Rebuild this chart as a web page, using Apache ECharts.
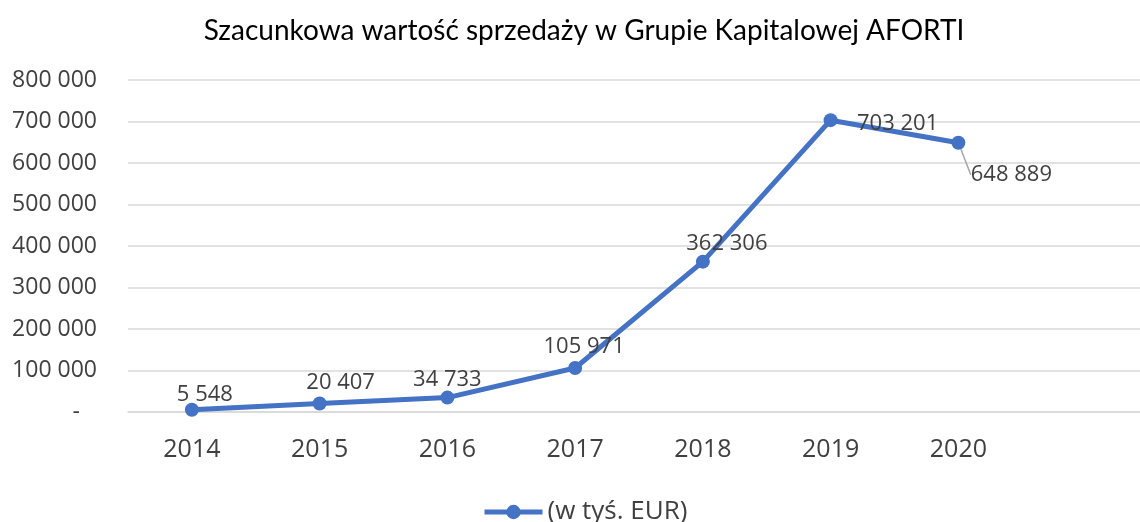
<!DOCTYPE html>
<html lang="pl">
<head>
<meta charset="UTF-8">
<title>AFORTI</title>
<script src="https://cdn.jsdelivr.net/npm/echarts@6/dist/echarts.min.js"></script>
<style>
  html, body { margin: 0; padding: 0; background: #fff; overflow: hidden; }
  #main { width: 1150px; height: 522px; }
</style>
</head>
<body>
<div id="main"></div>
<script>
var years = ['2014', '2015', '2016', '2017', '2018', '2019', '2020', ''];
var sales = [5548, 20407, 34733, 105971, 362306, 703201, 648889];
var yTicks = [0, 100000, 200000, 300000, 400000, 500000, 600000, 700000, 800000];

// label shifts (dx, dy) from the default "top" position
var labelShift = [[13, 6], [21, 0], [0, 3], [9, 0], [24, 3], [67, 25], [53, 53]];

function fmt(v) {
    return String(v).replace(/\B(?=(\d{3})+(?!\d))/g, ' ');
}

var myChart = echarts.init(document.getElementById('main'));

var option = {
    animation: false,
    title: {
        text: 'Szacunkowa wartość sprzedaży w Grupie Kapitalowej AFORTI',
        left: 579,
        textAlign: 'center',
        top: 12,
        textStyle: { fontFamily: 'Lato', fontSize: 28, fontWeight: 'normal', color: '#000' }
    },
    legend: {
        top: 494,
        left: 477,
        itemWidth: 58,
        itemHeight: 18,
        itemGap: 10,
        lineStyle: { width: 5 },
        textStyle: { fontFamily: 'Open Sans', fontSize: 26, color: '#404040' },
        data: ['(w tyś. EUR)']
    },
    grid: { left: 128, right: 0, top: 80, bottom: 110 },
    xAxis: {
        type: 'category',
        data: years,
        boundaryGap: true,
        axisLine: { show: true, lineStyle: { color: '#d9d9d9', width: 1.5 } },
        axisTick: { show: false },
        axisLabel: { margin: 25, fontFamily: 'Open Sans', fontSize: 25, color: '#404040' }
    },
    yAxis: {
        type: 'value',
        min: yTicks[0],
        max: yTicks[yTicks.length - 1],
        interval: 100000,
        axisLine: { show: false },
        axisTick: { show: false },
        splitLine: { lineStyle: { color: '#d9d9d9', width: 1.5 } },
        axisLabel: {
            margin: 31,
            fontFamily: 'Open Sans',
            fontSize: 23,
            color: '#404040',
            formatter: function (v) { return v === 0 ? '{d|-}' : fmt(v); },
            rich: { d: { fontFamily: 'Open Sans', fontSize: 23, color: '#404040', padding: [0, 17, 0, 0] } }
        }
    },
    series: [{
        name: '(w tyś. EUR)',
        type: 'line',
        data: sales.map(function (v, i) {
            return {
                value: v,
                labelLine: { show: i === 6 }
            };
        }),
        symbol: 'circle',
        symbolSize: 14,
        lineStyle: { color: '#4472c4', width: 5 },
        itemStyle: { color: '#4472c4' },
        label: {
            show: true,
            position: 'top',
            distance: 3,
            fontFamily: 'Open Sans',
            fontSize: 22,
            color: '#404040',
            formatter: function (p) { return fmt(p.value); }
        },
        labelLine: { lineStyle: { color: '#a6a6a6', width: 1.5 } },
        labelLayout: function (params) {
            var s = labelShift[params.dataIndex];
            return { dx: s[0], dy: s[1] };
        }
    }]
};

myChart.setOption(option);
</script>
</body>
</html>
